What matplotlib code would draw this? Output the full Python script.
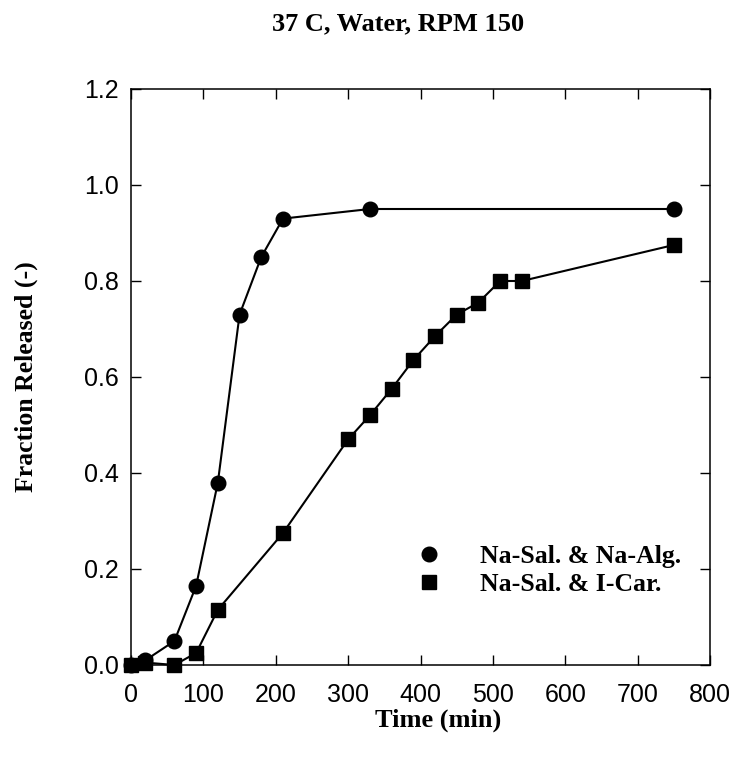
import matplotlib
matplotlib.use("Agg")

import matplotlib.pyplot as plt

# Na-Sal. & Na-Alg. (circles)
alg_time = [0, 20, 60, 90, 120, 150, 180, 210, 330, 750]
alg_frac = [0.0, 0.01, 0.05, 0.165, 0.38, 0.73, 0.85, 0.93, 0.95, 0.95]

# Na-Sal. & I-Car. (squares)
car_time = [0, 20, 60, 90, 120, 210, 300, 330, 360, 390, 420, 450, 480, 510, 540, 750]
car_frac = [0.0, 0.005, 0.0, 0.025, 0.115, 0.275, 0.47, 0.52, 0.575, 0.635,
            0.685, 0.73, 0.755, 0.80, 0.80, 0.875]

x_ticks = [0, 100, 200, 300, 400, 500, 600, 700, 800]
y_ticks = [0.0, 0.2, 0.4, 0.6, 0.8, 1.0, 1.2]

SERIF = "Liberation Serif"
SANS = "Liberation Sans"

fig = plt.figure(figsize=(7.34, 7.58), dpi=100)
ax = fig.add_axes([131 / 734, 1 - 665 / 758, (710 - 131) / 734, (665 - 89) / 758])

ax.plot(alg_time, alg_frac, color="black", lw=1.5, marker="o", ms=10.5,
        label="Na-Sal. & Na-Alg.", clip_on=False, zorder=3)
ax.plot(car_time, car_frac, color="black", lw=1.5, marker="s", ms=9.5,
        label="Na-Sal. & I-Car.", clip_on=False, zorder=3)

ax.set_xlim(0, 800)
ax.set_ylim(0, 1.2)
ax.set_xticks(x_ticks)
ax.set_yticks(y_ticks)
ax.set_xticklabels([str(t) for t in x_ticks], family=SANS, fontsize=18)
ax.set_yticklabels([f"{t:.1f}" for t in y_ticks], family=SANS, fontsize=18)
ax.tick_params(direction="in", length=7, width=1, top=True, right=True)
ax.tick_params(axis="x", pad=13)
ax.tick_params(axis="y", pad=9)
for s in ax.spines.values():
    s.set_linewidth(1.1)

ax.set_xlabel("Time (min)", family=SERIF, fontweight="bold", fontsize=19)
ax.xaxis.set_label_coords(0.53, -0.075)
ax.set_ylabel("Fraction Released (-)", family=SERIF, fontweight="bold", fontsize=18.5)
ax.yaxis.set_label_coords(-0.16, 0.5)
fig.text(398 / 734, 1 - 24 / 758, "37 C, Water, RPM 150", family=SERIF, fontweight="bold",
         fontsize=19, ha="center", va="center")

leg = ax.legend(loc="lower right", bbox_to_anchor=(0.99, 0.08), frameon=False,
                handlelength=1.0, handletextpad=1.5, labelspacing=0.2,
                prop={"family": SERIF, "weight": "bold", "size": 18.5})
for h in leg.legend_handles:
    h.set_linestyle("none")

fig.savefig("out.png", dpi=100)
